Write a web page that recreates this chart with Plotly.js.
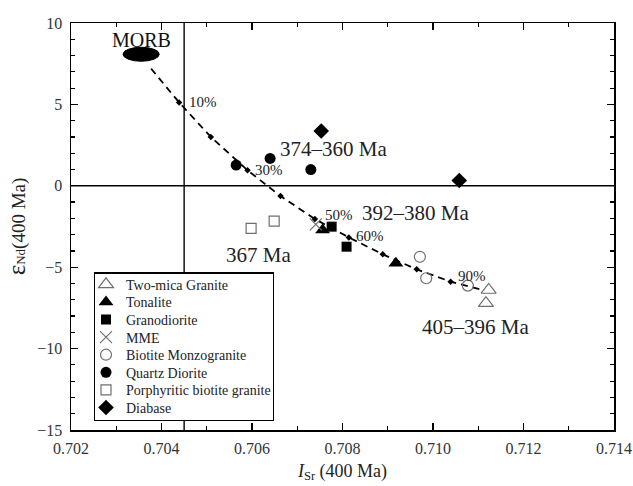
<!DOCTYPE html>
<html>
<head>
<meta charset="utf-8">
<script src="https://cdn.plot.ly/plotly-3.0.1.min.js"></script>
<style>html,body{margin:0;padding:0;background:#fff;}#chart{width:633px;height:486px;}</style>
</head>
<body>
<div id="chart"></div>
<script>
// ---- data ----
const twoMicaX = [0.71123, 0.71117];
const twoMicaY = [-6.40, -7.21];
const tonaliteX = [0.70756, 0.70918];
const tonaliteY = [-2.72, -4.76];
const granodioriteX = [0.70776, 0.70809];
const granodioriteY = [-2.51, -3.74];
const mmeX = [0.70741];
const mmeY = [-2.37];
const biotiteMonzX = [0.70971, 0.70985, 0.71077];
const biotiteMonzY = [-4.36, -5.68, -6.13];
const quartzDioriteX = [0.70565, 0.70640, 0.70730];
const quartzDioriteY = [1.27, 1.68, 1.00];
const porphyriticX = [0.70598, 0.70649];
const porphyriticY = [-2.61, -2.17];
const diabaseX = [0.70753, 0.71058];
const diabaseY = [3.37, 0.33];

// mixing curve (MORB -> crust), tick marks every 10%
const mixX = [0.70377, 0.70439, 0.70509, 0.70590, 0.70663, 0.70739, 0.70814, 0.70889, 0.70964, 0.71039, 0.71104];
const mixY = [7.20, 5.12, 3.00, 0.96, -0.63, -2.04, -3.17, -4.21, -5.13, -5.89, -6.36];
const mixTickX = mixX.slice(1, 10);
const mixTickY = mixY.slice(1, 10);
const pctLabels = ['10%', '30%', '50%', '60%', '90%'];
const pctX = [0.70456, 0.70602, 0.70756, 0.70825, 0.71051];
const pctY = [5.12, 0.96, -1.80, -3.07, -5.52];

// MORB field
const morbX = [0.70315, 0.70395];
const morbY = [7.65, 8.51];

// group age labels
const ageLabels = ['374–360 Ma', '392–380 Ma', '367 Ma', '405–396 Ma'];
const ageX = [0.70779, 0.70961, 0.70615, 0.71093];
const ageY = [2.27, -1.66, -4.25, -8.65];

// reference lines
const refIsr = 0.7045;
const refEps = 0;

const xTickVals = [0.702, 0.704, 0.706, 0.708, 0.710, 0.712, 0.714];
const xTickText = ['0.702', '0.704', '0.706', '0.708', '0.710', '0.712', '0.714'];

// ---- chart ----
const FONT = '"Liberation Serif", "Times New Roman", serif';
const grayOpen = '#6f6f6f';

function grp(name, x, y, symbol, color, size, lw) {
  return {
    type: 'scatter', mode: 'markers', name: name, x: x, y: y,
    marker: {symbol: symbol, color: color, size: size, line: {color: color, width: lw || 0}},
    hoverinfo: 'skip'
  };
}

const traces = [
  {type: 'scatter', mode: 'lines', x: mixX, y: mixY, showlegend: false,
   line: {color: '#000', width: 1.8, dash: '7px,5px'}, hoverinfo: 'skip'},
  {type: 'scatter', mode: 'markers', x: mixTickX, y: mixTickY, showlegend: false,
   marker: {symbol: 'diamond', color: '#000', size: 5}, hoverinfo: 'skip'},
  grp('Two-mica Granite', twoMicaX, twoMicaY, 'triangle-up-open', grayOpen, 13, 1.2),
  grp('Tonalite', tonaliteX, tonaliteY, 'triangle-up', '#000', 13, 0),
  grp('Granodiorite', granodioriteX, granodioriteY, 'square', '#000', 10, 0),
  grp('MME', mmeX, mmeY, 'x-thin-open', grayOpen, 12, 1.2),
  grp('Biotite Monzogranite', biotiteMonzX, biotiteMonzY, 'circle-open', grayOpen, 11, 1.2),
  grp('Quartz Diorite', quartzDioriteX, quartzDioriteY, 'circle', '#000', 11, 0),
  grp('Porphyritic biotite granite', porphyriticX, porphyriticY, 'square-open', grayOpen, 10, 1.2),
  grp('Diabase', diabaseX, diabaseY, 'diamond', '#000', 12, 0)
];

const annotations = [];
pctLabels.forEach((t, i) => annotations.push({
  x: pctX[i], y: pctY[i], xref: 'x', yref: 'y', text: t, showarrow: false,
  xanchor: 'left', yanchor: 'middle', font: {family: FONT, size: 15, color: '#222'}
}));
ageLabels.forEach((t, i) => annotations.push({
  x: ageX[i], y: ageY[i], xref: 'x', yref: 'y', text: t, showarrow: false,
  xanchor: 'center', yanchor: 'middle', font: {family: FONT, size: 21, color: '#222'}
}));
annotations.push({
  x: (morbX[0] + morbX[1]) / 2, y: 8.98, xref: 'x', yref: 'y', text: 'MORB', showarrow: false,
  xanchor: 'center', yanchor: 'middle', font: {family: FONT, size: 20, color: '#111'}
});

const axisCommon = {
  showline: true, linecolor: '#000', linewidth: 1.5, mirror: 'ticks',
  ticks: 'inside', ticklen: 7, tickwidth: 1.3, tickcolor: '#000',
  showgrid: false, zeroline: false,
  tickfont: {family: FONT, size: 16, color: '#333'}
};

const layout = {
  width: 633, height: 486,
  margin: {l: 71, r: 19, t: 23, b: 56},
  paper_bgcolor: '#fff', plot_bgcolor: '#fff',
  font: {family: FONT, color: '#222'},
  xaxis: Object.assign({}, axisCommon, {
    range: [0.702, 0.714], tickvals: xTickVals, ticktext: xTickText,
    ticklabelstandoff: 3,
    minor: {dtick: 0.001, tick0: 0.702, ticks: 'inside', ticklen: 4, tickwidth: 1.2, tickcolor: '#000'},
    title: {text: '<i>I</i><sub>Sr</sub> (400 Ma)', font: {family: FONT, size: 18, color: '#222'}, standoff: 8}
  }),
  yaxis: Object.assign({}, axisCommon, {
    range: [-15, 10], dtick: 5, tick0: 0,
    ticklabelstandoff: 4,
    minor: {dtick: 1, ticks: 'inside', ticklen: 4, tickwidth: 1.2, tickcolor: '#000'},
    title: {text: '<span style="font-size:25px">ε</span><span style="font-size:13px">Nd</span>(400 Ma)', font: {family: FONT, size: 19, color: '#222'}, standoff: 6}
  }),
  shapes: [
    {type: 'line', xref: 'x', yref: 'paper', x0: refIsr, x1: refIsr, y0: 0, y1: 1, line: {color: '#000', width: 1.4}, layer: 'below'},
    {type: 'line', xref: 'paper', yref: 'y', x0: 0, x1: 1, y0: refEps, y1: refEps, line: {color: '#000', width: 1.4}, layer: 'below'},
    {type: 'circle', xref: 'x', yref: 'y', x0: morbX[0], x1: morbX[1], y0: morbY[0], y1: morbY[1], fillcolor: '#000', line: {color: '#000', width: 1}}
  ],
  annotations: annotations,
  legend: {
    x: 0.042, y: 0.387, xanchor: 'left', yanchor: 'top',
    bgcolor: '#fff', bordercolor: '#000', borderwidth: 1.2,
    font: {family: FONT, size: 14, color: '#222'}, itemwidth: 30,
    tracegroupgap: 0
  },
  showlegend: true
};

function parseT(el) {
  const m = /translate\(\s*([-\d.e]+)[ ,]+([-\d.e]+)\s*\)/.exec(el.getAttribute('transform') || '');
  return m ? [+m[1], +m[2]] : [0, 0];
}

function tightenLegend(gd) {
  const leg = gd.querySelector('g.legend');
  if (!leg) return;
  let items = Array.from(leg.querySelectorAll('g.traces'));
  let pos = items.map(parseT);
  const allSame = pos.every(p => Math.abs(p[1] - pos[0][1]) < 0.5);
  if (allSame) {
    items = Array.from(leg.querySelectorAll('g.groups'));
    pos = items.map(parseT);
  }
  const n = items.length;
  if (n < 2) return;
  const oldStep = (pos[n - 1][1] - pos[0][1]) / (n - 1);
  const step = 17.6, dx = -9, dy = -5;
  items.forEach((g, i) => g.setAttribute('transform', 'translate(' + (pos[i][0] + dx) + ',' + (pos[0][1] + dy + i * step) + ')'));
  const bg = leg.querySelector('rect.bg');
  if (bg) {
    const h = +bg.getAttribute('height'), w = +bg.getAttribute('width');
    bg.setAttribute('height', h - (oldStep - step) * (n - 1) + dy * 2 + 2);
    bg.setAttribute('width', w + dx - 4);
  }
}

const gd = document.getElementById('chart');
Plotly.newPlot(gd, traces, layout, {displayModeBar: false, staticPlot: true}).then(() => tightenLegend(gd));
</script>
</body>
</html>
